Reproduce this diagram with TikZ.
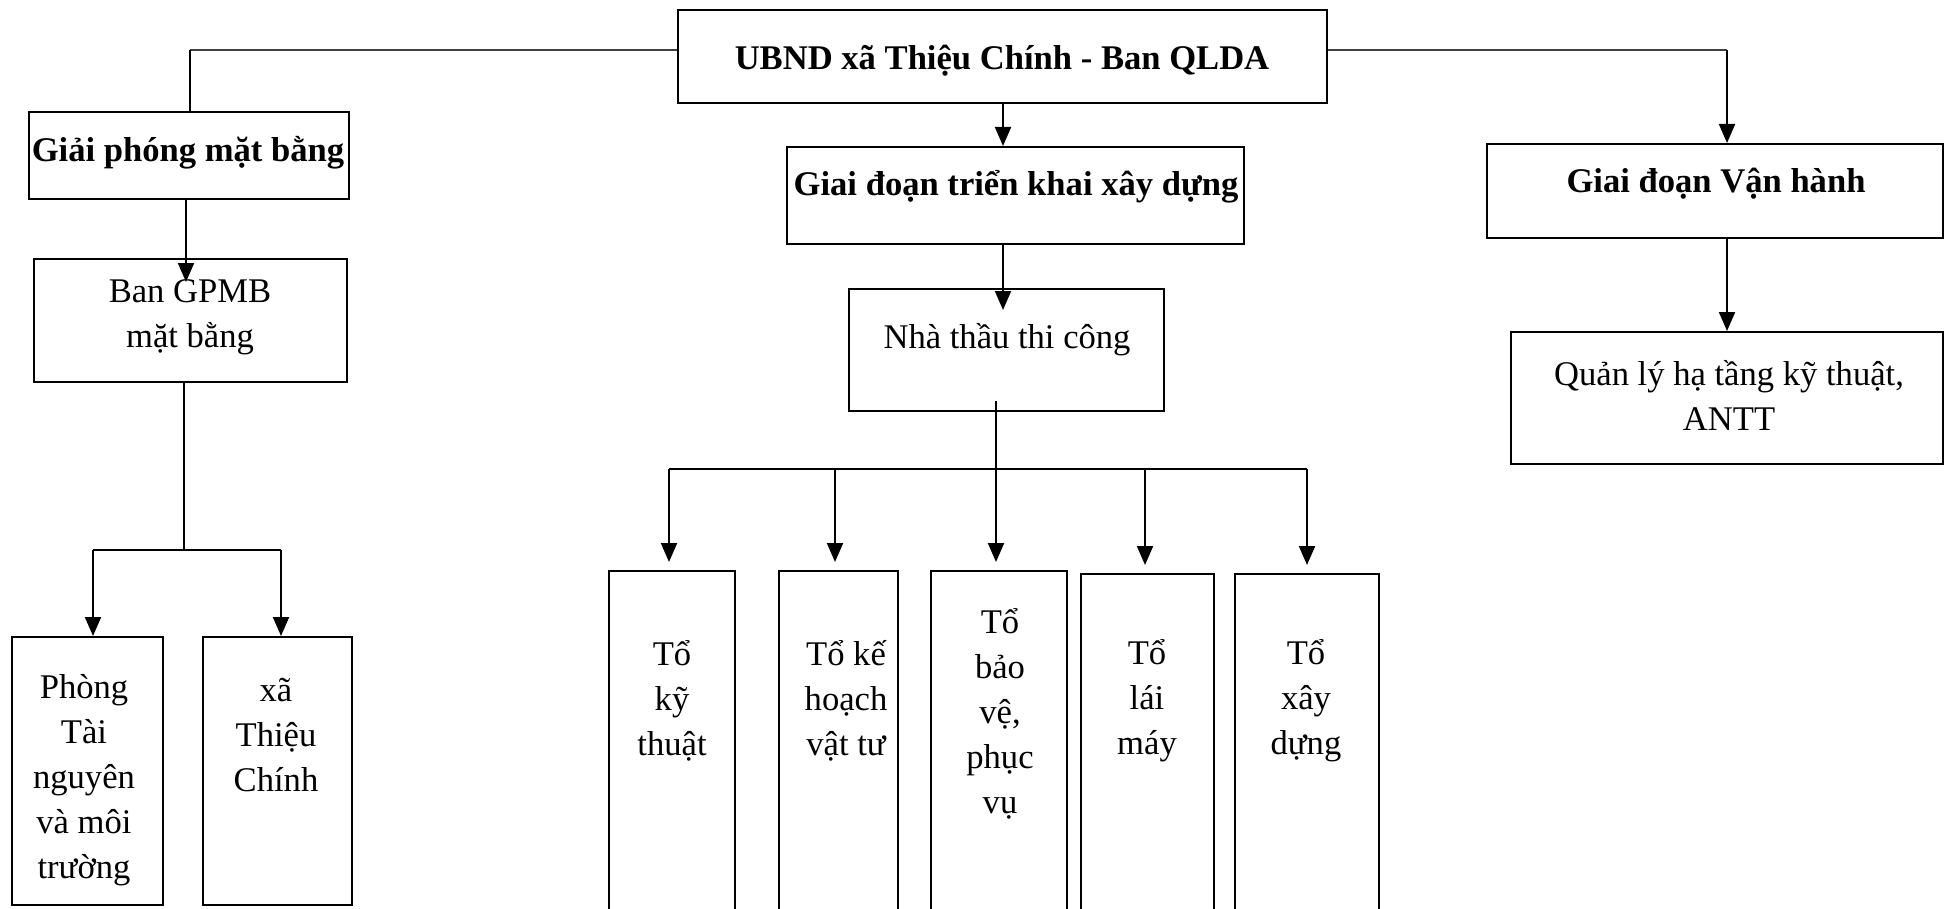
\documentclass[tikz,border=0pt]{standalone}
\usepackage{fontspec}
\setmainfont{Liberation Serif}
\usetikzlibrary{fit,arrows.meta}
\begin{document}
\begin{tikzpicture}[x=0.5pt,y=-0.5pt,
  box/.style={draw, line width=1pt, inner sep=0pt},
  txt/.style={font=\fontsize{17.3}{22.5}\selectfont, align=center, inner sep=0pt, yshift=-2pt},
  btxt/.style={align=center, inner sep=0pt, yshift=-2pt, font=\fontsize{17.3}{22.5}\selectfont\bfseries},
  feed/.style={draw=black!75, line width=0.6pt},
  link/.style={draw, line width=1pt},
  arrow/.style={link, -{Triangle[length=9.5pt,width=8pt]}}]
\useasboundingbox (0,0) rectangle (1952,909);

% boxes
\node[box, fit={(678,10) (1327,103)}] (top) {};
\node[box, fit={(29,112) (349,199)}] (gpmb) {};
\node[box, fit={(34,259) (347,382)}] (ban) {};
\node[box, fit={(12,637) (163,905)}] (p1) {};
\node[box, fit={(203,637) (352,905)}] (p2) {};
\node[box, fit={(787,147) (1244,244)}] (tk) {};
\node[box, fit={(849,289) (1164,411)}] (nt) {};
\node[box, fit={(609,571) (735,915)}] (t1) {};
\node[box, fit={(779,571) (898,915)}] (t2) {};
\node[box, fit={(931,571) (1067,915)}] (t3) {};
\node[box, fit={(1081,574) (1214,915)}] (t4) {};
\node[box, fit={(1235,574) (1379,915)}] (t5) {};
\node[box, fit={(1487,144) (1943,238)}] (vh) {};
\node[box, fit={(1511,332) (1943,464)}] (ql) {};

% texts
\node[btxt] (ttop) at (1002,57) {UBND xã Thiệu Chính - Ban QLDA};
\node[btxt] (tgpmb) at (188,149) {Giải phóng mặt bằng};
\node[txt] (tban) at (190,313) {Ban GPMB\\mặt bằng};
\node[txt] (tp1) at (84,776) {Phòng\\Tài\\nguyên\\và môi\\trường};
\node[txt] (tp2) at (276,731) {xã\\Thiệu\\Chính};
\node[btxt] (ttk) at (1016,183) {Giai đoạn triển khai xây dựng};
\node[txt] (tnt) at (1007,336) {Nhà thầu thi công};
\node[txt] (tt1) at (672,697) {Tổ\\kỹ\\thuật};
\node[txt] (tt2) at (846,697) {Tổ kế\\hoạch\\vật tư};
\node[txt] (tt3) at (1000,710) {Tổ\\bảo\\vệ,\\phục\\vụ};
\node[txt] (tt4) at (1147,697) {Tổ\\lái\\máy};
\node[txt] (tt5) at (1306,697) {Tổ\\xây\\dựng};
\node[btxt] (tvh) at (1716,180) {Giai đoạn Vận hành};
\node[txt] (tql) at (1729,391) {Quản lý hạ tầng kỹ thuật,\\ANTT};

% junction coordinates
\coordinate (cL) at (190,50);
\coordinate (cR) at (1727,50);
\coordinate (banIn) at (186,282);
\coordinate (ntIn) at (1003,310);
\coordinate (pb) at (184,550);
\coordinate (pL) at (93,550);
\coordinate (pR) at (281,550);
\coordinate (ntOut) at (996,401);
\coordinate (b1) at (669,469);
\coordinate (b2) at (835,469);
\coordinate (b3) at (996,469);
\coordinate (b4) at (1145,469);
\coordinate (b5) at (1307,469);

% connectors
\draw[feed] (top.west |- cL) -- (cL);
\draw[link] (cL) -- (cL |- gpmb.north);
\draw[feed] (top.east |- cR) -- (cR);
\draw[arrow] (cR) -- (cR |- vh.north);
\draw[arrow] (top.south -| 1003,0) -- (tk.north -| 1003,0);
\draw[arrow] (gpmb.south -| banIn) -- (banIn);
\draw[arrow] (tk.south -| ntIn) -- (ntIn);
\draw[arrow] (vh.south -| cR) -- (cR |- ql.north);

\draw[link] (ban.south -| pb) -- (pb);
\draw[link] (pL) -- (pR);
\draw[arrow] (pL) -- (pL |- p1.north);
\draw[arrow] (pR) -- (pR |- p2.north);

\draw[link] (b1) -- (b5);
\draw[arrow, shorten >=4pt] (ntOut) -- (b3 |- t3.north);
\draw[arrow, shorten >=4pt] (b1) -- (b1 |- t1.north);
\draw[arrow, shorten >=4pt] (b2) -- (b2 |- t2.north);
\draw[arrow, shorten >=4pt] (b4) -- (b4 |- t4.north);
\draw[arrow, shorten >=4pt] (b5) -- (b5 |- t5.north);
\end{tikzpicture}
\end{document}
